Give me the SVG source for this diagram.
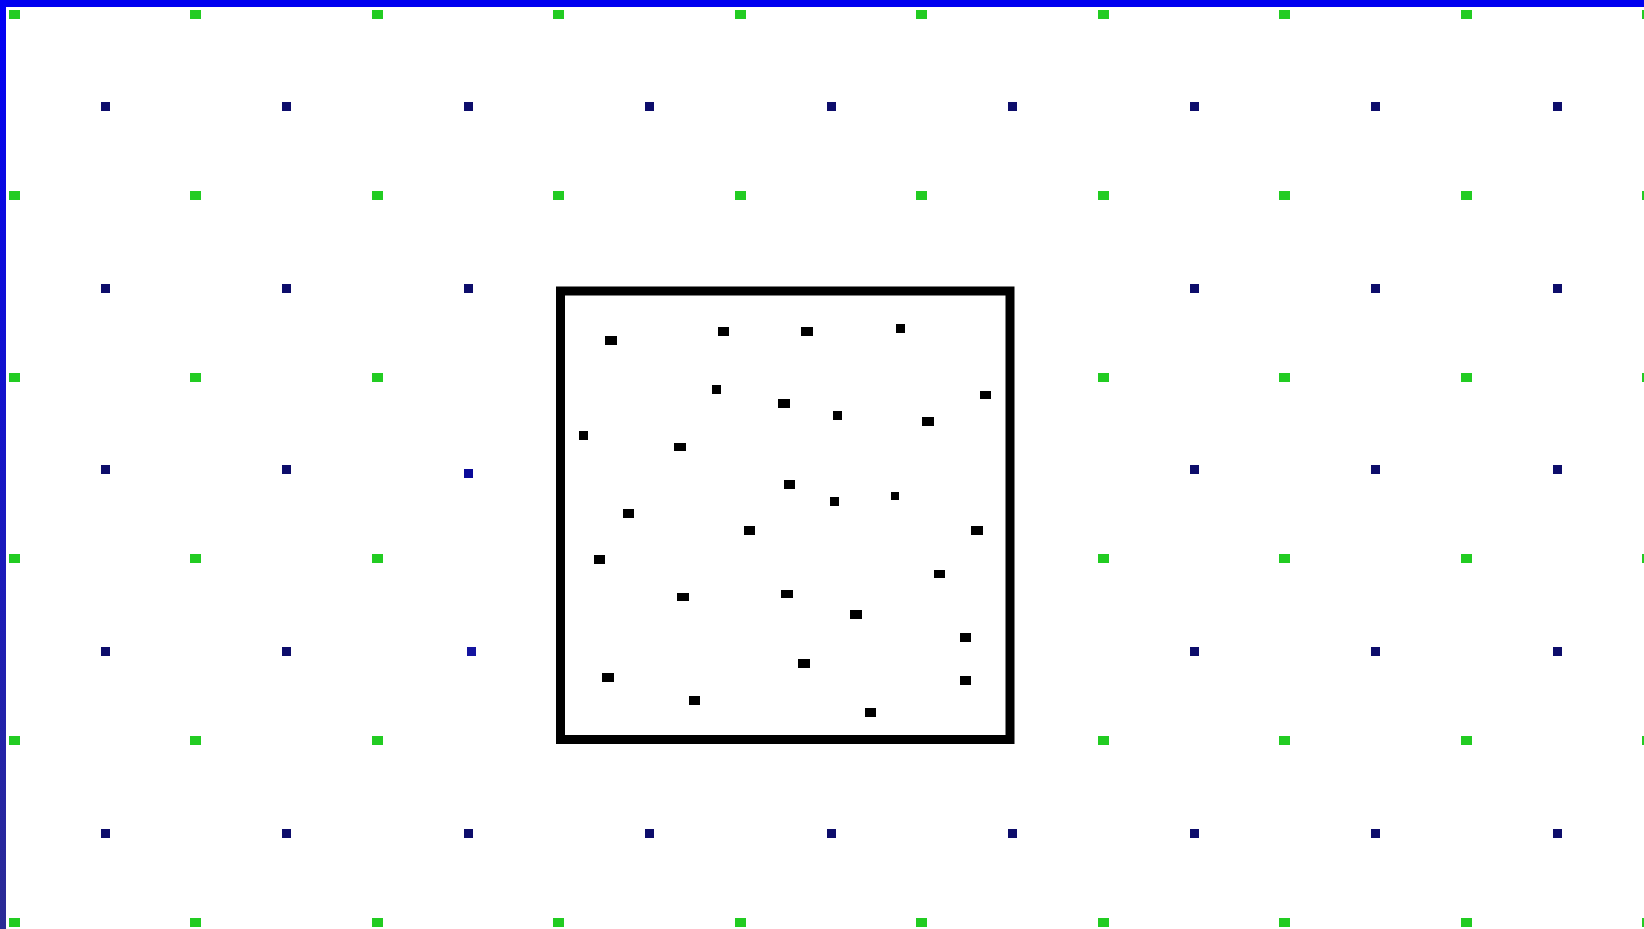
<svg xmlns="http://www.w3.org/2000/svg" xmlns:xlink="http://www.w3.org/1999/xlink" width="1644" height="929" viewBox="0 0 1644 929">
<defs>
<style>
.g{fill:#22cc22}
.b{fill:#0d0d6b}
.k{fill:#000}
</style>
<linearGradient id="lb" x1="0" y1="0" x2="0" y2="1">
<stop offset="0" stop-color="#0000f5"/>
<stop offset="1" stop-color="#2b2b94"/>
</linearGradient>
<rect id="gd" class="g" width="11" height="9"/>
<rect id="bd" class="b" width="9" height="9"/>
</defs>
<rect width="1644" height="929" fill="#fff"/>
<g id="green-dots">
<use href="#gd" x="9" y="10"/><use href="#gd" x="190" y="10"/><use href="#gd" x="372" y="10"/><use href="#gd" x="553" y="10"/><use href="#gd" x="735" y="10"/><use href="#gd" x="916" y="10"/><use href="#gd" x="1098" y="10"/><use href="#gd" x="1279" y="10"/><use href="#gd" x="1461" y="10"/><use href="#gd" x="1642" y="10"/>
<use href="#gd" x="9" y="191"/><use href="#gd" x="190" y="191"/><use href="#gd" x="372" y="191"/><use href="#gd" x="553" y="191"/><use href="#gd" x="735" y="191"/><use href="#gd" x="916" y="191"/><use href="#gd" x="1098" y="191"/><use href="#gd" x="1279" y="191"/><use href="#gd" x="1461" y="191"/><use href="#gd" x="1642" y="191"/>
<use href="#gd" x="9" y="373"/><use href="#gd" x="190" y="373"/><use href="#gd" x="372" y="373"/><use href="#gd" x="1098" y="373"/><use href="#gd" x="1279" y="373"/><use href="#gd" x="1461" y="373"/><use href="#gd" x="1642" y="373"/>
<use href="#gd" x="9" y="554"/><use href="#gd" x="190" y="554"/><use href="#gd" x="372" y="554"/><use href="#gd" x="1098" y="554"/><use href="#gd" x="1279" y="554"/><use href="#gd" x="1461" y="554"/><use href="#gd" x="1642" y="554"/>
<use href="#gd" x="9" y="736"/><use href="#gd" x="190" y="736"/><use href="#gd" x="372" y="736"/><use href="#gd" x="1098" y="736"/><use href="#gd" x="1279" y="736"/><use href="#gd" x="1461" y="736"/><use href="#gd" x="1642" y="736"/>
<use href="#gd" x="9" y="918"/><use href="#gd" x="190" y="918"/><use href="#gd" x="372" y="918"/><use href="#gd" x="553" y="918"/><use href="#gd" x="735" y="918"/><use href="#gd" x="916" y="918"/><use href="#gd" x="1098" y="918"/><use href="#gd" x="1279" y="918"/><use href="#gd" x="1461" y="918"/><use href="#gd" x="1642" y="918"/>
</g>
<g id="blue-dots">
<use href="#bd" x="101" y="102"/><use href="#bd" x="282" y="102"/><use href="#bd" x="464" y="102"/><use href="#bd" x="645" y="102"/><use href="#bd" x="827" y="102"/><use href="#bd" x="1008" y="102"/><use href="#bd" x="1190" y="102"/><use href="#bd" x="1371" y="102"/><use href="#bd" x="1553" y="102"/>
<use href="#bd" x="101" y="284"/><use href="#bd" x="282" y="284"/><use href="#bd" x="464" y="284"/><use href="#bd" x="1190" y="284"/><use href="#bd" x="1371" y="284"/><use href="#bd" x="1553" y="284"/>
<use href="#bd" x="101" y="465"/><use href="#bd" x="282" y="465"/><rect x="464" y="469" width="9" height="9" fill="#0a0a99"/><use href="#bd" x="1190" y="465"/><use href="#bd" x="1371" y="465"/><use href="#bd" x="1553" y="465"/>
<use href="#bd" x="101" y="647"/><use href="#bd" x="282" y="647"/><rect x="467" y="647" width="9" height="9" fill="#1414a0"/><use href="#bd" x="1190" y="647"/><use href="#bd" x="1371" y="647"/><use href="#bd" x="1553" y="647"/>
<use href="#bd" x="101" y="829"/><use href="#bd" x="282" y="829"/><use href="#bd" x="464" y="829"/><use href="#bd" x="645" y="829"/><use href="#bd" x="827" y="829"/><use href="#bd" x="1008" y="829"/><use href="#bd" x="1190" y="829"/><use href="#bd" x="1371" y="829"/><use href="#bd" x="1553" y="829"/>
</g>
<g id="box">
<rect x="560.5" y="291" width="449.5" height="448.5" fill="#fff" stroke="#000" stroke-width="9"/>
<rect class="k" x="605" y="336" width="12" height="9"/>
<rect class="k" x="718" y="327" width="11" height="9"/>
<rect class="k" x="801" y="327" width="12" height="9"/>
<rect class="k" x="896" y="324" width="9" height="9"/>
<rect class="k" x="712" y="385" width="9" height="9"/>
<rect class="k" x="778" y="399" width="12" height="9"/>
<rect class="k" x="833" y="411" width="9" height="9"/>
<rect class="k" x="922" y="417" width="12" height="9"/>
<rect class="k" x="980" y="391" width="11" height="8"/>
<rect class="k" x="579" y="431" width="9" height="9"/>
<rect class="k" x="674" y="443" width="12" height="8"/>
<rect class="k" x="784" y="480" width="11" height="9"/>
<rect class="k" x="830" y="497" width="9" height="9"/>
<rect class="k" x="891" y="492" width="8" height="8"/>
<rect class="k" x="623" y="509" width="11" height="9"/>
<rect class="k" x="744" y="526" width="11" height="9"/>
<rect class="k" x="971" y="526" width="12" height="9"/>
<rect class="k" x="594" y="555" width="11" height="9"/>
<rect class="k" x="934" y="570" width="11" height="8"/>
<rect class="k" x="677" y="593" width="12" height="8"/>
<rect class="k" x="781" y="590" width="12" height="8"/>
<rect class="k" x="850" y="610" width="12" height="9"/>
<rect class="k" x="960" y="633" width="11" height="9"/>
<rect class="k" x="798" y="659" width="12" height="9"/>
<rect class="k" x="602" y="673" width="12" height="9"/>
<rect class="k" x="960" y="676" width="11" height="9"/>
<rect class="k" x="689" y="696" width="11" height="9"/>
<rect class="k" x="865" y="708" width="11" height="9"/>
</g>
<g id="frame">
<rect x="0" y="0" width="1644" height="7" fill="#0000f0"/>
<rect x="0" y="0" width="6" height="929" fill="url(#lb)"/>
</g>
</svg>
